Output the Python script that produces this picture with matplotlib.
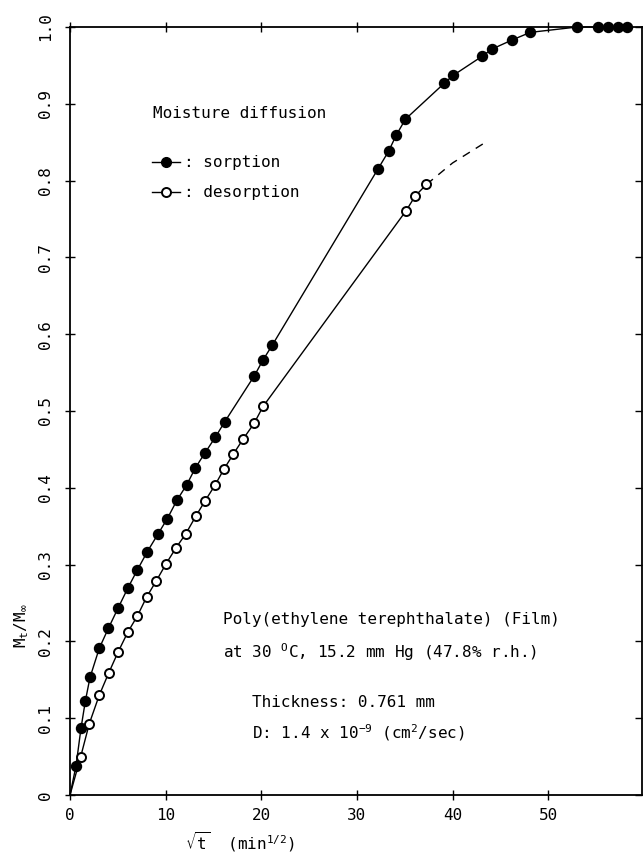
import numpy as np
import matplotlib
matplotlib.use("Agg")
import matplotlib.pyplot as plt

plt.rcParams["font.family"] = ["DejaVu Sans Mono", "DejaVu Sans"]
plt.rcParams["mathtext.default"] = "regular"

# sorption (filled circles)
sorption_x = [0.63, 1.15, 1.60, 2.09, 3.06, 4.01, 5.05, 6.07, 7.04, 8.09,
              9.21, 10.18, 11.19, 12.21, 13.11, 14.09, 15.20, 16.18,
              19.28, 20.16, 21.16, 32.19, 33.30, 34.10, 35.07, 39.15,
              40.06, 43.10, 44.07, 46.20, 48.12, 53.03, 55.20, 56.20,
              57.25, 58.19]
sorption_y = [0.038, 0.087, 0.122, 0.153, 0.191, 0.217, 0.244, 0.270, 0.293,
              0.317, 0.340, 0.360, 0.384, 0.404, 0.426, 0.445, 0.466, 0.486,
              0.546, 0.566, 0.586, 0.815, 0.838, 0.859, 0.880, 0.927, 0.937,
              0.962, 0.971, 0.983, 0.993, 1.0, 1.0, 1.0, 1.0, 1.0]

# desorption (open circles)
desorption_x = [1.12, 2.02, 3.06, 4.05, 5.02, 6.04, 7.04, 8.02, 9.03, 10.04,
                11.09, 12.10, 13.15, 14.12, 15.14, 16.08, 17.08, 18.13,
                19.25, 20.19, 35.15, 36.09, 37.27]
desorption_y = [0.050, 0.093, 0.130, 0.159, 0.186, 0.212, 0.233, 0.258,
                0.279, 0.301, 0.322, 0.340, 0.363, 0.383, 0.403, 0.424,
                0.444, 0.464, 0.484, 0.506, 0.761, 0.780, 0.795]

# dashed extrapolation of the desorption curve
desorp_ext_x = [37.27, 40.0, 43.2]
desorp_ext_y = [0.795, 0.823, 0.848]

xticks = [0, 10, 20, 30, 40, 50]
yticks = [0, 0.1, 0.2, 0.3, 0.4, 0.5, 0.6, 0.7, 0.8, 0.9, 1.0]
ytick_labels = ["0", "0.1", "0.2", "0.3", "0.4", "0.5", "0.6", "0.7", "0.8",
                "0.9", "1.0"]

fig = plt.figure(figsize=(6.44, 8.58), dpi=100)
ax = fig.add_axes([70 / 644, 63 / 858, 572 / 644, 768 / 858])

# curves start from the origin
ax.plot([0] + sorption_x, [0] + sorption_y, color="black", lw=1.0,
        clip_on=False, zorder=2)
ax.plot([0] + desorption_x, [0] + desorption_y, color="black", lw=1.0,
        zorder=2)
ax.plot(desorp_ext_x, desorp_ext_y, color="black", lw=1.0,
        linestyle=(0, (6, 5)), zorder=2)

ax.plot(sorption_x, sorption_y, "o", color="black", ms=7.2,
        clip_on=False, zorder=3)
ax.plot(desorption_x, desorption_y, "o", mfc="white", mec="black",
        mew=1.4, ms=6.5, zorder=3)

# legend keys look like  -o-
k1, = ax.plot([], [], "-o", color="black", ms=7, lw=1.0)
k2, = ax.plot([], [], "-o", color="black", mfc="white", mew=1.4, ms=6.5,
              lw=1.0)

ax.text(0.145, 0.887, "Moisture diffusion", transform=ax.transAxes,
        fontsize=11.5, va="center", ha="left")
ax.legend([k1, k2], [": sorption", ": desorption"], loc="upper left",
          bbox_to_anchor=(0.144, 0.833), frameon=False, fontsize=11.5,
          borderpad=0, borderaxespad=0, handlelength=1.7,
          handletextpad=0.3, labelspacing=0.95)

ax.text(0.267, 0.228, "Poly(ethylene terephthalate) (Film)",
        transform=ax.transAxes, fontsize=11.5, va="center", ha="left")
ax.text(0.267, 0.186, "at 30 $^{O}$C, 15.2 mm Hg (47.8% r.h.)",
        transform=ax.transAxes, fontsize=11.5, va="center", ha="left")
ax.text(0.318, 0.121, "Thickness: 0.761 mm",
        transform=ax.transAxes, fontsize=11.5, va="center", ha="left")
ax.text(0.318, 0.081, "D: 1.4 x 10$^{-9}$ (cm$^{2}$/sec)",
        transform=ax.transAxes, fontsize=11.5, va="center", ha="left")

ax.set_xlim(0, 59.8)
ax.set_ylim(0, 1.0)
ax.set_xticks(xticks)
ax.set_xticklabels([str(t) for t in xticks])
ax.set_yticks(yticks)
ax.set_yticklabels(ytick_labels, rotation=90, va="center")

ax.tick_params(axis="both", direction="inout", length=7, width=1.0,
               labelsize=11.5, top=True, right=False)
ax.tick_params(axis="x", pad=6)
ax.tick_params(axis="y", pad=9)
ax.tick_params(axis="y", which="both", right=True)
for t in ax.yaxis.get_major_ticks():
    t.tick2line.set_marker(matplotlib.lines.TICKLEFT)
    t.tick2line.set_markersize(5)

for s in ax.spines.values():
    s.set_linewidth(1.3)

ax.set_xlabel(r"$\sqrt{t}$  (min$^{1/2}$)", fontsize=11.5)
ax.xaxis.set_label_coords(0.297, -0.046)
ax.set_ylabel(r"M$_{t}$/M$_{\infty}$", fontsize=11.5)
ax.yaxis.set_label_coords(-0.068, 0.221)

fig.savefig("out.png", dpi=100)
